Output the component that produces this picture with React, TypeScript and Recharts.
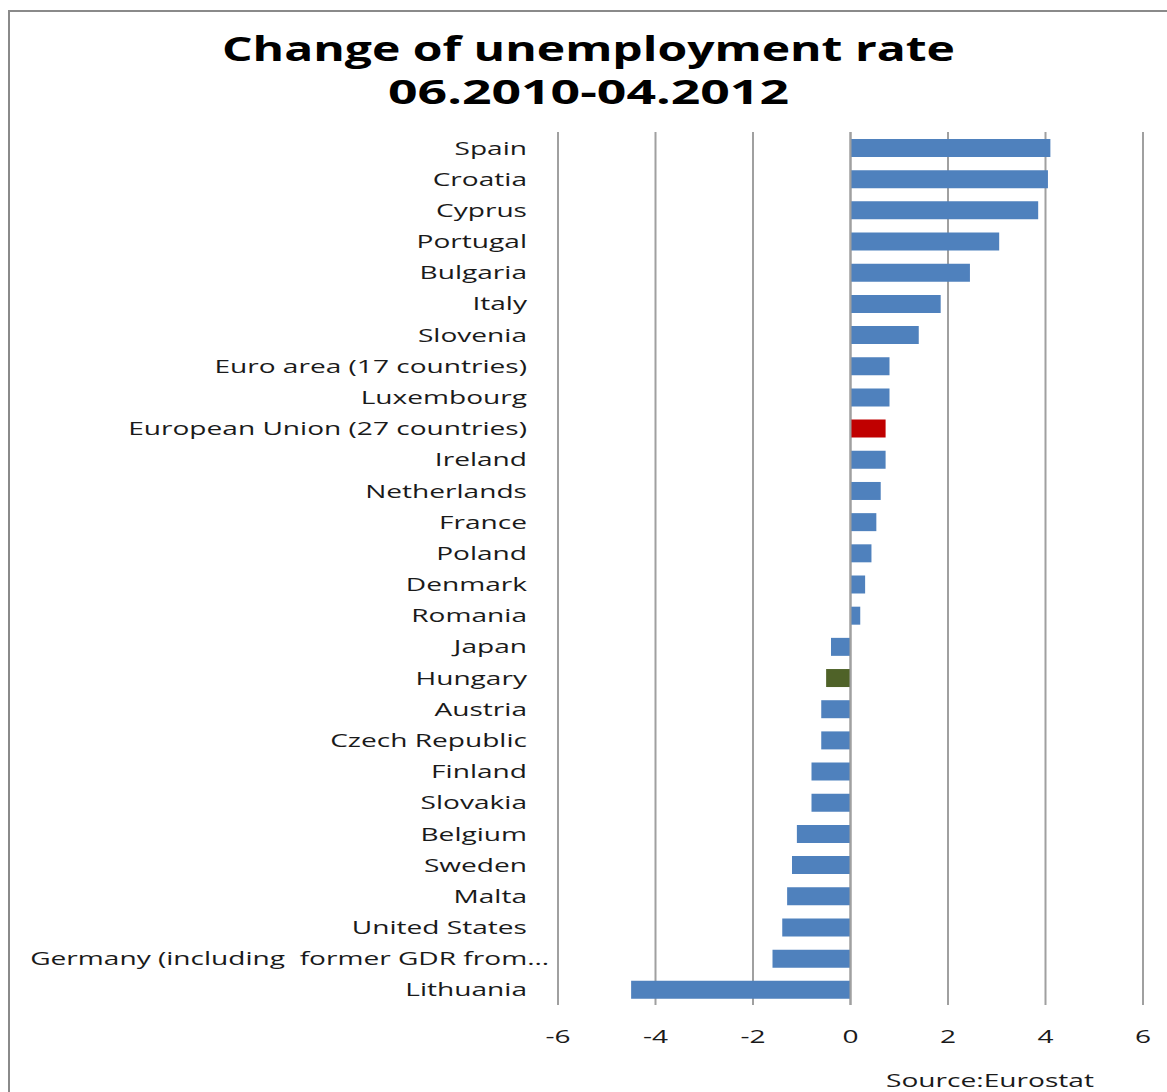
import { BarChart, Bar, XAxis, YAxis, CartesianGrid, ReferenceLine, Cell } from 'recharts';

// countries from top to bottom
const countries = [
  'Spain', 'Croatia', 'Cyprus', 'Portugal', 'Bulgaria', 'Italy', 'Slovenia',
  'Euro area (17 countries)', 'Luxembourg', 'European Union (27 countries)',
  'Ireland', 'Netherlands', 'France', 'Poland', 'Denmark', 'Romania', 'Japan',
  'Hungary', 'Austria', 'Czech Republic', 'Finland', 'Slovakia', 'Belgium',
  'Sweden', 'Malta', 'United States', 'Germany (including  former GDR from…', 'Lithuania',
];

// change of unemployment rate, percentage points
const changes = [
  4.1, 4.05, 3.85, 3.05, 2.45, 1.85, 1.4,
  0.8, 0.8, 0.72,
  0.72, 0.62, 0.53, 0.43, 0.3, 0.2, -0.4,
  -0.5, -0.6, -0.6, -0.8, -0.8, -1.1,
  -1.2, -1.3, -1.4, -1.6, -4.5,
];

const xTicks = [-6, -4, -2, 0, 2, 4, 6];

const highlight: Record<string, string> = {
  'European Union (27 countries)': '#C00000',
  Hungary: '#4F6228',
};

const data = countries.map((name, i) => ({ name, value: changes[i] }));

const FONT = '"Open Sans", sans-serif';
const STRETCH = 1.56;

const CountryTick = (props: any) => {
  const { y, payload } = props;
  const label: string = payload.value;
  const end = label.endsWith('…') ? 549 : 527;
  return (
    <g transform={`translate(${end},${y}) scale(${STRETCH},1)`}>
      <text x={0} y={0} dy={7} textAnchor="end" fontSize={18} fill="#1a1a1a" fontFamily={FONT} style={{ whiteSpace: 'pre' }}>
        {label}
      </text>
    </g>
  );
};

const ValueTick = (props: any) => {
  const { x, y, payload } = props;
  return (
    <g transform={`translate(${x},${y + 30}) scale(${STRETCH},1)`}>
      <text x={0} y={0} textAnchor="middle" fontSize={18} fill="#1a1a1a" fontFamily={FONT}>
        {payload.value}
      </text>
    </g>
  );
};

export default function App() {
  return (
    <div style={{ position: 'absolute', left: 0, top: 0, width: 1167, height: 1092, background: '#fff', overflow: 'hidden' }}>
      <div style={{ position: 'absolute', left: 8, top: 10, width: 1200, height: 1200, borderLeft: '2px solid #8a8a8a', borderTop: '2px solid #8a8a8a' }} />
      <svg width={1167} height={120} style={{ position: 'absolute', left: 0, top: 0 }}>
        <text x={222} y={61} textLength={733} lengthAdjust="spacingAndGlyphs" fontSize={34} fontWeight={700} fontFamily={FONT} fill="#000">
          Change of unemployment rate
        </text>
        <text x={388} y={104} textLength={401} lengthAdjust="spacingAndGlyphs" fontSize={34} fontWeight={700} fontFamily={FONT} fill="#000">
          06.2010-04.2012
        </text>
      </svg>
      <div style={{ position: 'absolute', left: 0, top: 0 }}>
        <BarChart
          width={1167}
          height={1092}
          data={data}
          layout="vertical"
          margin={{ top: 132, right: 24, left: 0, bottom: 57 }}
        >
          <CartesianGrid horizontal={false} stroke="#a0a0a0" strokeWidth={2} />
          <XAxis
            type="number"
            domain={[-6, 6]}
            ticks={xTicks}
            axisLine={false}
            tickLine={false}
            height={30}
            tick={<ValueTick />}
          />
          <YAxis
            type="category"
            dataKey="name"
            width={558}
            axisLine={false}
            tickLine={false}
            interval={0}
            tick={<CountryTick />}
          />
          <ReferenceLine x={0} stroke="#a0a0a0" strokeWidth={2} />
          <Bar dataKey="value" fill="#4F81BD" barSize={18} isAnimationActive={false}>
            {data.map((d) => (
              <Cell key={d.name} fill={highlight[d.name] ?? '#4F81BD'} />
            ))}
          </Bar>
        </BarChart>
      </div>
      <svg width={1167} height={1092} style={{ position: 'absolute', left: 0, top: 0, pointerEvents: 'none' }}>
        <text x={886} y={1087} textLength={208} lengthAdjust="spacingAndGlyphs" fontSize={18} fontFamily={FONT} fill="#1a1a1a">
          Source:Eurostat
        </text>
      </svg>
    </div>
  );
}
